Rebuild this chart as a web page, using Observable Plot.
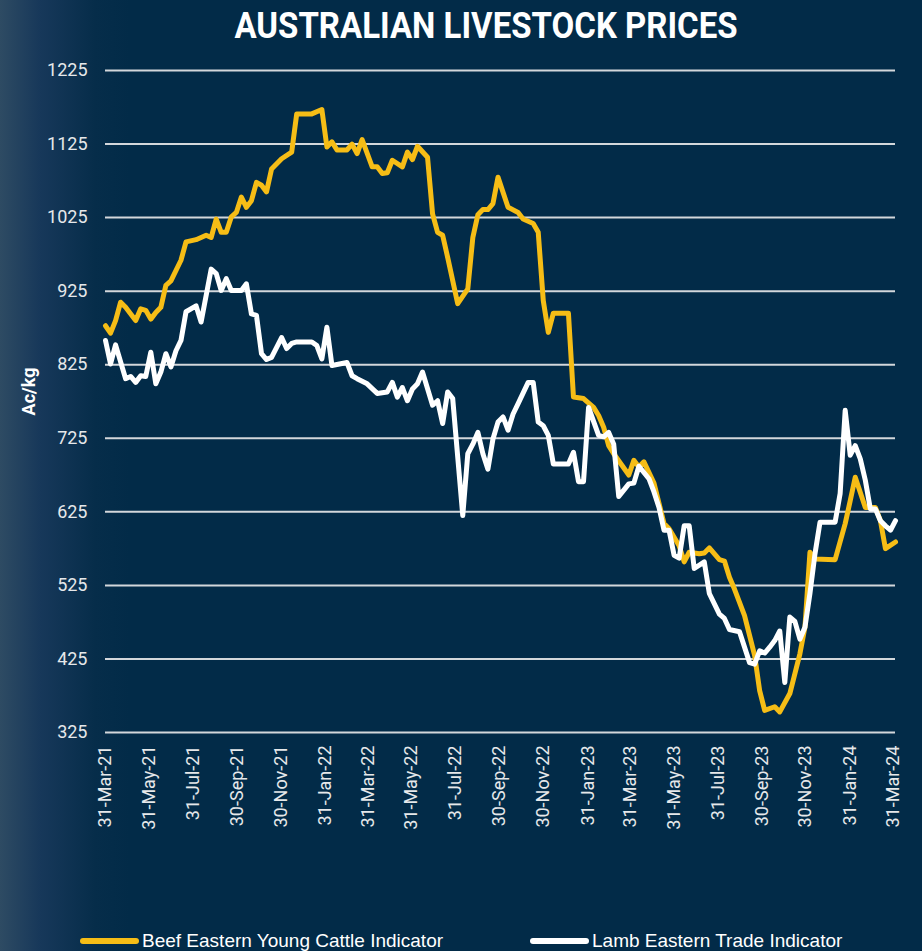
<!DOCTYPE html>
<html>
<head>
<meta charset="utf-8">
<script src="https://cdn.jsdelivr.net/npm/d3@7"></script>
<script src="https://cdn.jsdelivr.net/npm/@observablehq/plot@0.6"></script>
<style>
  html, body { margin: 0; padding: 0; }
  body {
    width: 922px; height: 951px; overflow: hidden; position: relative;
    background: linear-gradient(to right, #2e4b63 0px, #17385a 40px, #062d4a 95px, #022b48 130px, #022b48 100%);
    font-family: Roboto, "Liberation Sans", sans-serif;
  }
  #title {
    position: absolute; top: 4px; left: 0; width: 972px; text-align: center;
    color: #ffffff; font-family: Roboto, sans-serif; font-weight: 700; font-size: 33px;
    transform: scaleY(1.1); transform-origin: top center; letter-spacing: 0px;
  }
  #chart { position: absolute; top: 52px; left: 0; }
  #chart g[aria-label="y-axis tick label"] { font-size: 18px; }
  #chart g[aria-label="x-axis tick label"] { font-size: 18px; }
  #legend {
    position: absolute; top: 930px; left: 0; width: 922px; height: 21px;
    color: #ffffff; font-family: "Liberation Sans", Arial, sans-serif; font-size: 19px;
  }
  .item { position: absolute; top: 0; display: flex; align-items: center; white-space: nowrap; }
  .sw { width: 59px; height: 6px; border-radius: 3px; margin-right: 3px; }
</style>
</head>
<body>
<div id="title">AUSTRALIAN LIVESTOCK PRICES</div>
<div id="chart"></div>
<div id="legend"></div>
<script>
// ---- data (week offsets from 31-Mar-2021, weekly indicator values in Ac/kg) ----
const startDate = "2021-03-31";
const seriesNames = ["Beef Eastern Young Cattle Indicator", "Lamb Eastern Trade Indicator"];
const seriesColors = ["#f6bd16", "#ffffff"];

const beefWeeks = [0,1,2,3,4,6,7,8,9,10,11,12,13,15,16,18,20,21,22,23,24,25,26,27,28,29,30,31,32,33,35,37,38,41,43,44,45,46,48,49,50,51,53,54,55,56,57,59,60,61,62,64,65,66,67,68,70,72,73,74,75,76,77,78,80,82,83,85,86,87,88,89,92,93,95,97,98,99,100,101,104,105,106,107,109,111,112,114,115,116,118,119,120,122,123,124,125,127,129,130,131,133,134,136,138,139,140,141,145,147,148,149,151,153,154,155,157];
const beefValues = [878,868,885,910,903,885,901,899,887,896,903,933,939,967,992,995,1001,998,1023,1005,1005,1026,1032,1053,1039,1048,1073,1069,1060,1091,1105,1114,1166,1166,1172,1121,1128,1117,1117,1125,1112,1131,1094,1094,1085,1086,1103,1094,1114,1104,1122,1107,1030,1005,1001,971,908,928,998,1029,1036,1036,1044,1080,1039,1032,1023,1017,1005,912,869,895,895,781,779,767,756,740,715,704,675,695,686,693,664,609,602,579,557,570,568,569,576,560,558,536,520,484,430,382,355,360,353,378,432,468,570,561,560,609,640,672,631,631,613,575,584];

const lambWeeks = [0,1,2,4,5,6,7,8,9,10,11,12,13,14,15,16,18,19,21,22,23,24,25,27,28,29,30,31,32,33,35,36,37,38,41,42,43,44,45,48,49,50,52,54,56,57,58,59,60,61,62,63,65,66,67,68,69,71,72,73,74,75,76,77,78,79,80,81,82,84,85,86,87,88,89,92,93,94,95,96,98,99,100,101,102,104,105,106,108,109,110,111,112,113,114,115,116,117,119,120,122,123,124,126,128,129,130,131,132,133,134,135,136,137,138,139,140,141,142,145,146,147,148,149,150,151,152,153,154,155,156,157];
const lambValues = [858,826,852,806,809,801,810,809,842,799,815,840,822,844,858,897,905,883,955,949,926,942,926,926,935,894,892,840,832,835,862,847,854,856,856,851,833,876,824,828,810,806,799,786,788,801,781,794,776,792,799,815,770,776,745,788,779,620,704,717,733,704,683,724,747,754,736,758,772,801,801,747,742,729,690,690,706,666,666,767,729,727,733,717,646,663,664,687,670,652,631,600,600,566,562,606,606,548,557,514,486,480,465,462,420,418,436,433,441,450,463,393,482,476,452,468,514,568,611,611,650,763,702,715,697,668,629,629,613,606,600,613];

const yTicks = [325,425,525,625,725,825,925,1025,1125,1225];
const xTickDates = ["2021-03-31","2021-05-31","2021-07-31","2021-09-30","2021-11-30","2022-01-31","2022-03-31","2022-05-31","2022-07-31","2022-09-30","2022-11-30","2023-01-31","2023-03-31","2023-05-31","2023-07-31","2023-09-30","2023-11-30","2024-01-31","2024-03-31"];
const yLabel = "Ac/kg";

// ---- build tables ----
const t0 = new Date(startDate + "T00:00:00Z");
const toDate = w => d3.utcDay.offset(t0, 7 * w);
const beef = beefWeeks.map((w, i) => ({date: toDate(w), value: beefValues[i]}));
const lamb = lambWeeks.map((w, i) => ({date: toDate(w), value: lambValues[i]}));
const xTicks = xTickDates.map(s => new Date(s + "T00:00:00Z"));
const lastWeek = Math.max(beefWeeks[beefWeeks.length - 1], lambWeeks[lambWeeks.length - 1]);

const chart = Plot.plot({
  width: 922,
  height: 850,
  marginLeft: 105,
  marginRight: 27,
  marginTop: 18,
  marginBottom: 170,
  style: {background: "transparent", color: "#ffffff", fontFamily: "Roboto, sans-serif", overflow: "visible"},
  x: {type: "utc", domain: [t0, toDate(lastWeek)]},
  y: {domain: [325, 1225]},
  marks: [
    Plot.gridY(yTicks, {stroke: "#d3d7db", strokeOpacity: 1, strokeWidth: 2}),
    Plot.axisY(yTicks, {tickSize: 0, tickPadding: 18, fontSize: 18, fill: "#e6e8ea", label: null,
      tickFormat: d => String(d)}),
    Plot.axisX(xTicks, {tickSize: 0, tickPadding: 13, tickRotate: -90, fontSize: 18, fill: "#e6e8ea",
      tickFormat: d3.utcFormat("%d-%b-%y"), label: null}),
    Plot.text([yLabel], {frameAnchor: "left", dx: -76, dy: -10, rotate: -90, textAnchor: "middle",
      fontSize: 18, fontWeight: "bold", fill: "#ffffff"}),
    Plot.line(beef, {x: "date", y: "value", stroke: seriesColors[0], strokeWidth: 5, strokeLinejoin: "round", strokeLinecap: "round"}),
    Plot.line(lamb, {x: "date", y: "value", stroke: seriesColors[1], strokeWidth: 5, strokeLinejoin: "round", strokeLinecap: "round"})
  ]
});
document.getElementById("chart").appendChild(chart);

// ---- legend ----
const legend = document.getElementById("legend");
const legendLeft = [80, 530];
seriesNames.forEach((name, i) => {
  const item = document.createElement("div");
  item.className = "item";
  item.style.left = legendLeft[i] + "px";
  const sw = document.createElement("div");
  sw.className = "sw";
  sw.style.background = seriesColors[i];
  const label = document.createElement("span");
  label.textContent = name;
  item.appendChild(sw);
  item.appendChild(label);
  legend.appendChild(item);
});
</script>
</body>
</html>
